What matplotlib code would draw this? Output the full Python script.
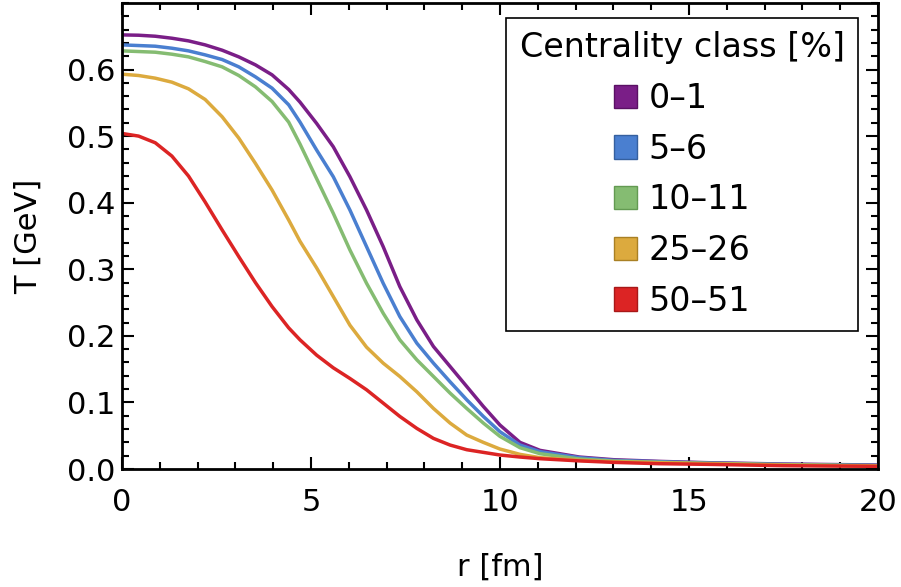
import matplotlib.pyplot as plt
from matplotlib.patches import Patch
from matplotlib.ticker import MultipleLocator

plt.rcParams['font.family'] = ['DejaVu Sans']

# r [fm] -> T [GeV]
r = [0, 0.44, 0.88, 1.32, 1.76, 2.2, 2.65, 3.09, 3.53, 3.97, 4.41, 4.71, 5.15, 5.59, 6.03, 6.47, 6.91,
     7.35, 7.80, 8.24, 8.68, 9.12, 9.56, 10.0, 10.53, 11.06, 12.1, 13.0, 14.2, 15.5, 17.5, 20]

T_01 = [0.652, 0.6515, 0.650, 0.647, 0.643, 0.637, 0.629, 0.619, 0.607, 0.592, 0.570, 0.551, 0.519, 0.484, 0.439, 0.389, 0.334,
        0.274, 0.224, 0.184, 0.154, 0.124, 0.094, 0.066, 0.040, 0.028, 0.018, 0.014, 0.0115, 0.0095, 0.0075, 0.006]
T_56 = [0.637, 0.636, 0.635, 0.632, 0.628, 0.622, 0.615, 0.604, 0.589, 0.572, 0.547, 0.521, 0.479, 0.439, 0.389, 0.334, 0.279,
        0.229, 0.189, 0.159, 0.131, 0.104, 0.079, 0.056, 0.036, 0.026, 0.017, 0.013, 0.011, 0.009, 0.007, 0.0055]
T_1011 = [0.628, 0.627, 0.626, 0.623, 0.619, 0.612, 0.604, 0.591, 0.574, 0.552, 0.521, 0.488, 0.436, 0.384, 0.329, 0.279, 0.234,
          0.194, 0.164, 0.139, 0.114, 0.091, 0.069, 0.049, 0.032, 0.023, 0.015, 0.012, 0.010, 0.0085, 0.0065, 0.005]
T_2526 = [0.593, 0.591, 0.587, 0.581, 0.571, 0.555, 0.529, 0.497, 0.459, 0.419, 0.374, 0.342, 0.302, 0.259, 0.216, 0.183, 0.159,
          0.139, 0.116, 0.091, 0.069, 0.051, 0.040, 0.030, 0.022, 0.017, 0.013, 0.011, 0.0095, 0.008, 0.006, 0.0045]
T_5051 = [0.504, 0.500, 0.490, 0.470, 0.440, 0.401, 0.359, 0.319, 0.280, 0.244, 0.212, 0.194, 0.171, 0.152, 0.136, 0.119, 0.099,
          0.079, 0.061, 0.046, 0.036, 0.029, 0.025, 0.021, 0.018, 0.0155, 0.0122, 0.010, 0.008, 0.007, 0.005, 0.004]

labels = ['0\u20131', '5\u20136', '10\u201311', '25\u201326', '50\u201351']
colors = ['#7a1e87', '#4a7fd0', '#85bc72', '#dcaa3e', '#dc2424']
edges = ['#5a1064', '#35609f', '#639a52', '#a98024', '#a81818']

fig = plt.figure(figsize=(9.01, 5.87), dpi=100)
ax = fig.add_axes([0.1354, 0.201, 0.839, 0.794])

for T, c in zip([T_01, T_56, T_1011, T_2526, T_5051], colors):
    ax.plot(r, T, color=c, lw=2.5)

ax.set_xlim(0, 20)
ax.set_ylim(0, 0.7)
ax.xaxis.set_minor_locator(MultipleLocator(1))
ax.yaxis.set_minor_locator(MultipleLocator(0.02))
ax.set_yticks([0.0, 0.1, 0.2, 0.3, 0.4, 0.5, 0.6])
ax.set_yticklabels(['0.0', '0.1', '0.2', '0.3', '0.4', '0.5', '0.6'])
ax.set_xticks([0, 5, 10, 15, 20])
ax.set_xticklabels(['0', '5', '10', '15', '20'])

ax.tick_params(which='both', direction='in', top=True, right=True, width=1.5, labelsize=22)
ax.tick_params(which='major', length=8.5)
ax.tick_params(which='minor', length=5)
ax.tick_params(axis='x', pad=14)
ax.tick_params(axis='y', pad=5)
for s in ax.spines.values():
    s.set_linewidth(2)

ax.set_xlabel('r [fm]', fontsize=22)
ax.set_ylabel('T [GeV]', fontsize=22)
ax.xaxis.set_label_coords(0.5, -0.18)
ax.yaxis.set_label_coords(-0.105, 0.5)

handles = [Patch(facecolor=c, edgecolor=e, lw=1) for c, e in zip(colors, edges)]
leg = ax.legend(handles, labels, title='Centrality class [%]', loc='upper right',
                bbox_to_anchor=(0.9735, 0.9678), borderaxespad=0, fontsize=24,
                title_fontsize=24, handlelength=0.7, handleheight=0.7,
                handletextpad=0.35, labelspacing=0.53, borderpad=0.4,
                fancybox=False, framealpha=1)
leg.get_frame().set_edgecolor('black')
leg.get_frame().set_linewidth(1.2)

fig.savefig('out.png', dpi=100)
